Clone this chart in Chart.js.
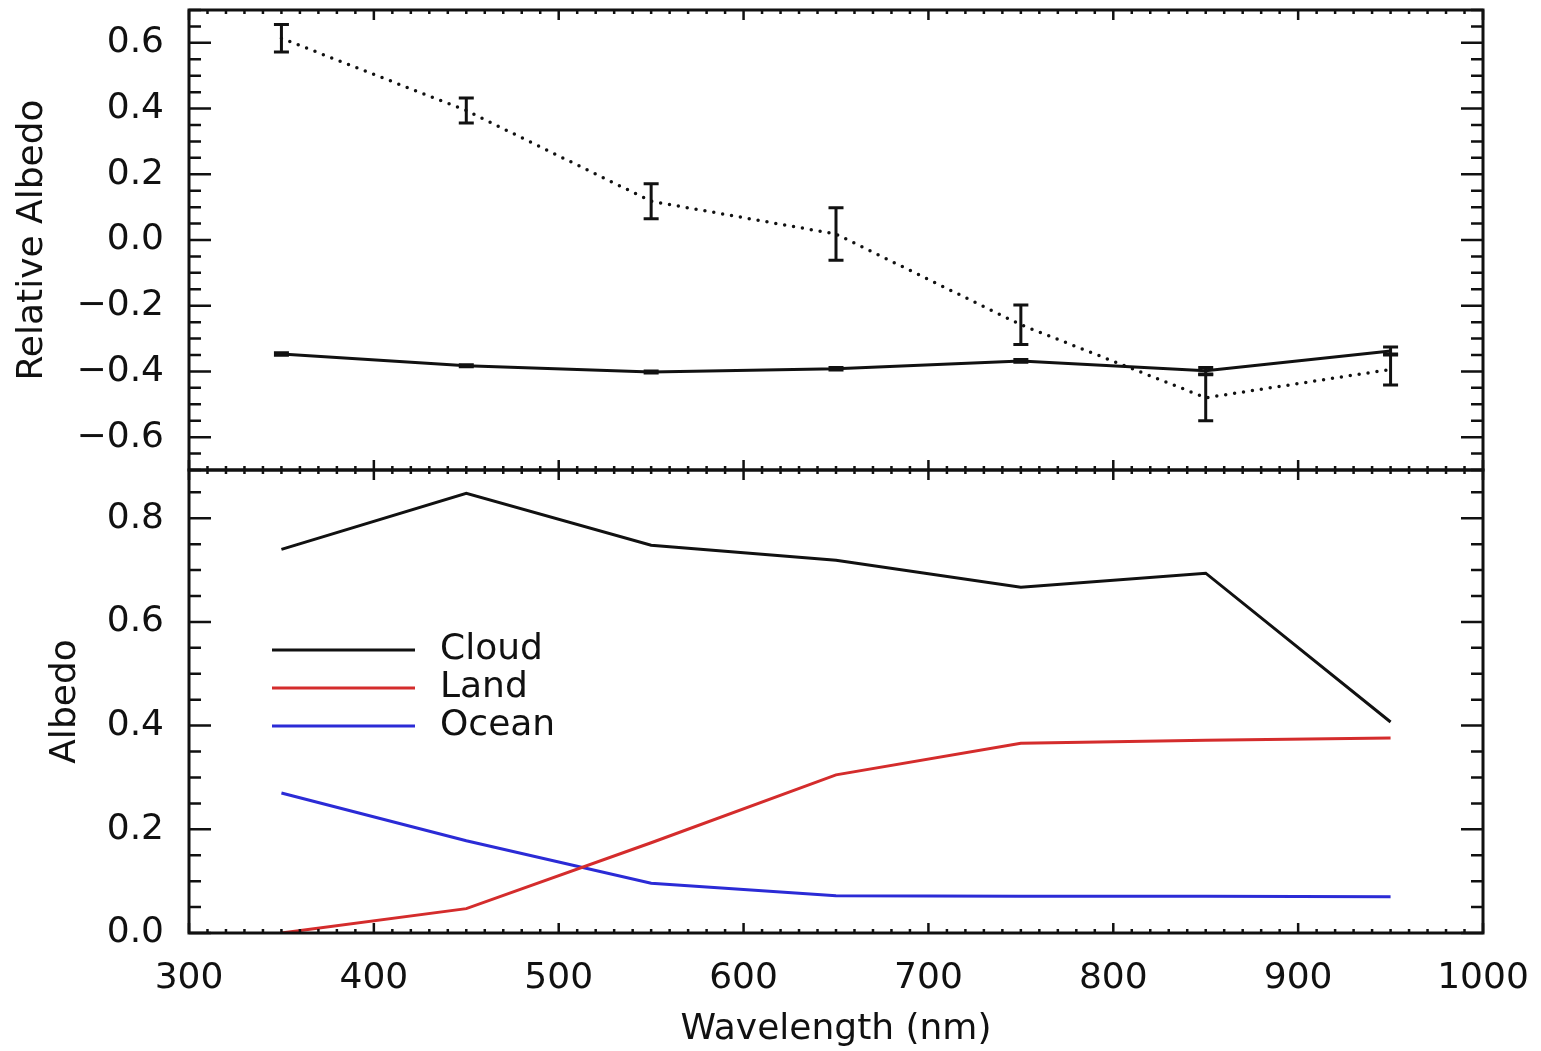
<!DOCTYPE html>
<html>
<head>
<meta charset="utf-8">
<script src="https://cdn.jsdelivr.net/npm/chart.js@4/dist/chart.umd.min.js"></script>
<style>
  html, body { margin: 0; padding: 0; background: #fff; }
</style>
</head>
<body>
<canvas id="albedoChart" width="1541" height="1051"></canvas>
<script>
// wavelengths of the seven filters (nm)
var wavelengths = [350, 450, 550, 650, 750, 850, 950];

// top panel: relative albedo
var relDotted    = [0.614, 0.394, 0.118, 0.018, -0.258, -0.480, -0.394];
var relDottedErr = [0.042, 0.038, 0.053, 0.080, 0.060, 0.070, 0.047];
var relSolid     = [-0.347, -0.383, -0.402, -0.392, -0.368, -0.398, -0.338];
var relSolidErr  = [0.004, 0.003, 0.003, 0.004, 0.004, 0.010, 0.012];

// bottom panel: albedo
var cloud = [0.740, 0.848, 0.748, 0.719, 0.667, 0.694, 0.407];
var land  = [0.000, 0.047, 0.174, 0.305, 0.366, 0.372, 0.376];
var ocean = [0.270, 0.178, 0.096, 0.072, 0.071, 0.071, 0.070];

// tick labels
var xTicks   = [300, 400, 500, 600, 700, 800, 900, 1000];
var topTicks = [-0.6, -0.4, -0.2, 0.0, 0.2, 0.4, 0.6];
var botTicks = [0.0, 0.2, 0.4, 0.6, 0.8];

var FONT = "'DejaVu Sans', sans-serif";

function pts(values) {
  return values.map(function (v, i) { return {x: wavelengths[i], y: v}; });
}

function fmt(v) {
  var s = Math.abs(v).toFixed(1);
  return (v < -1e-9 ? '\u2212' : '') + s;
}

function setTicks(list) {
  return function (s) {
    s.ticks = list.map(function (v) { return {value: v}; });
  };
}

// inward ticks + frames for both panels
var framePlugin = {
  id: 'frame',
  afterDatasetsDraw: function (chart) {
    var ctx = chart.ctx, a = chart.chartArea, xs = chart.scales.x;
    ctx.save();
    ctx.strokeStyle = '#111';
    ['yTop', 'yBot'].forEach(function (id) {
      var s = chart.scales[id];
      ctx.lineWidth = 2.5;
      ctx.beginPath();
      var i0 = Math.ceil(s.min / 0.05 - 1e-6), i1 = Math.floor(s.max / 0.05 + 1e-6);
      for (var i = i0; i <= i1; i++) {
        var py = s.getPixelForValue(i * 0.05);
        var len = (Math.abs(i) % 4 === 0) ? 22 : 12;
        ctx.moveTo(a.left, py); ctx.lineTo(a.left + len, py);
        ctx.moveTo(a.right, py); ctx.lineTo(a.right - len, py);
      }
      for (var w = 300; w <= 1000; w += 10) {
        var px = xs.getPixelForValue(w);
        var tl = (w % 100 === 0) ? 10 : 4;
        ctx.moveTo(px, s.top); ctx.lineTo(px, s.top + tl);
        ctx.moveTo(px, s.bottom); ctx.lineTo(px, s.bottom - tl);
      }
      ctx.stroke();
      ctx.lineWidth = 3;
      ctx.strokeRect(a.left, s.top, a.right - a.left, s.bottom - s.top);
    });
    ctx.restore();
  }
};

// error bars for datasets carrying an "errors" array
var errorBarPlugin = {
  id: 'errorBars',
  afterDatasetsDraw: function (chart) {
    var ctx = chart.ctx;
    ctx.save();
    chart.data.datasets.forEach(function (ds, i) {
      if (!ds.errors) return;
      var meta = chart.getDatasetMeta(i);
      var ys = chart.scales[ds.yAxisID];
      ctx.strokeStyle = '#111';
      ctx.lineWidth = 3;
      meta.data.forEach(function (p, j) {
        var v = ds.data[j].y, e = ds.errors[j];
        var y1 = ys.getPixelForValue(v + e), y2 = ys.getPixelForValue(v - e);
        ctx.beginPath();
        ctx.moveTo(p.x, y1); ctx.lineTo(p.x, y2);
        ctx.moveTo(p.x - 7.5, y1); ctx.lineTo(p.x + 7.5, y1);
        ctx.moveTo(p.x - 7.5, y2); ctx.lineTo(p.x + 7.5, y2);
        ctx.stroke();
      });
    });
    ctx.restore();
  }
};

// legend inside the bottom panel
var legendPlugin = {
  id: 'innerLegend',
  afterDatasetsDraw: function (chart) {
    var ctx = chart.ctx, a = chart.chartArea, s = chart.scales.yBot;
    ctx.save();
    ctx.font = '36px ' + FONT;
    ctx.textBaseline = 'middle';
    ctx.fillStyle = '#111';
    var row = 0;
    chart.data.datasets.forEach(function (ds) {
      if (ds.yAxisID !== 'yBot') return;
      var y = s.top + 180 + row * 38;
      ctx.strokeStyle = ds.borderColor;
      ctx.lineWidth = 3;
      ctx.beginPath();
      ctx.moveTo(a.left + 83, y); ctx.lineTo(a.left + 226, y);
      ctx.stroke();
      ctx.fillText(ds.label, a.left + 251, y);
      row++;
    });
    ctx.restore();
  }
};

var datasets = [
  {
    label: 'Relative (dotted)',
    data: pts(relDotted),
    errors: relDottedErr,
    yAxisID: 'yTop',
    borderColor: '#111',
    borderWidth: 3.5,
    borderDash: [0, 9],
    borderCapStyle: 'round',
    pointRadius: 0,
    tension: 0
  },
  {
    label: 'Relative (solid)',
    data: pts(relSolid),
    errors: relSolidErr,
    yAxisID: 'yTop',
    borderColor: '#111',
    borderWidth: 3,
    pointRadius: 0,
    tension: 0
  },
  {
    label: 'Cloud',
    data: pts(cloud),
    yAxisID: 'yBot',
    borderColor: '#111111',
    borderWidth: 3,
    pointRadius: 0,
    tension: 0
  },
  {
    label: 'Land',
    data: pts(land),
    yAxisID: 'yBot',
    borderColor: '#d42c2c',
    borderWidth: 3,
    pointRadius: 0,
    tension: 0
  },
  {
    label: 'Ocean',
    data: pts(ocean),
    yAxisID: 'yBot',
    borderColor: '#2b2bd6',
    borderWidth: 3,
    pointRadius: 0,
    tension: 0
  }
];

function fixY(s) {
  s.width = 189;
  s.paddingTop = 0;
  s.paddingBottom = 0;
}

var options = {
  responsive: false,
  animation: false,
  devicePixelRatio: 1,
  layout: { padding: { left: 0, right: 58, top: 10, bottom: 0 } },
  plugins: { legend: { display: false }, tooltip: { enabled: false } },
  scales: {
    x: {
      type: 'linear',
      position: 'bottom',
      min: 300,
      max: 1000,
      grid: { display: false },
      border: { display: false },
      afterBuildTicks: setTicks(xTicks),
      ticks: { autoSkip: false, maxRotation: 0, padding: 16, color: '#111', font: { family: FONT, size: 36 }, callback: function (v) { return String(v); } },
      title: { display: true, text: 'Wavelength (nm)', color: '#111', padding: { top: 0, bottom: 0 }, font: { family: FONT, size: 36 } },
      afterFit: function (s) { s.height = 118; s.paddingLeft = 0; s.paddingRight = 0; }
    },
    yTop: {
      type: 'linear',
      position: 'left',
      stack: 'panels',
      stackWeight: 460,
      weight: 2,
      min: -0.7,
      max: 0.7,
      grid: { display: false },
      border: { display: false },
      afterBuildTicks: setTicks(topTicks),
      ticks: { autoSkip: false, padding: 17, color: '#111', font: { family: FONT, size: 36 }, callback: fmt },
      title: { display: true, text: 'Relative Albedo', color: '#111', padding: { top: 11, bottom: 0 }, font: { family: FONT, size: 36 } },
      afterFit: fixY
    },
    yBot: {
      type: 'linear',
      position: 'left',
      stack: 'panels',
      stackWeight: 463,
      weight: 1,
      min: 0,
      max: 0.893,
      grid: { display: false },
      border: { display: false },
      afterBuildTicks: setTicks(botTicks),
      ticks: { autoSkip: false, padding: 17, color: '#111', font: { family: FONT, size: 36 }, callback: fmt },
      title: { display: true, text: 'Albedo', color: '#111', padding: { top: 44, bottom: 0 }, font: { family: FONT, size: 36 } },
      afterFit: fixY
    }
  }
};

var ctx = document.getElementById('albedoChart').getContext('2d');
new Chart(ctx, {
  type: 'line',
  data: { datasets: datasets },
  options: options,
  plugins: [errorBarPlugin, framePlugin, legendPlugin]
});
</script>
</body>
</html>
